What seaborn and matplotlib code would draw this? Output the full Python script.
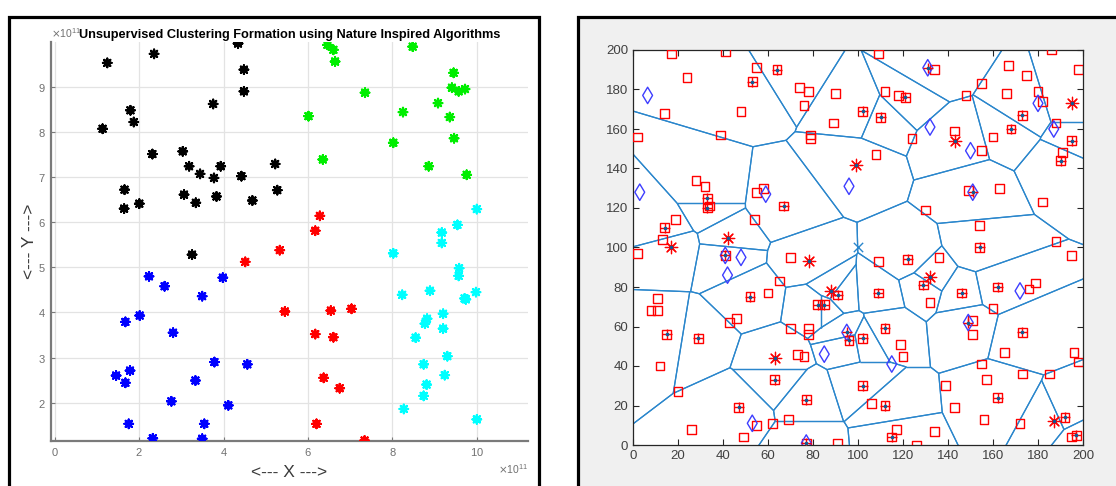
import numpy as np
import pandas as pd
import matplotlib
matplotlib.use("Agg")
import matplotlib.pyplot as plt
from matplotlib.patches import Rectangle
from matplotlib.collections import LineCollection
from matplotlib.ticker import ScalarFormatter
import seaborn as sns

plt.rcParams['font.family'] = ['Liberation Sans', 'DejaVu Sans']

# ---------------- Left panel data (units of 1e11) ----------------
black_x = [1.24, 2.35, 4.34, 4.48, 4.48, 3.75, 1.79, 1.87, 1.13, 2.31, 3.03, 3.18, 3.44, 3.77, 3.93, 4.42,
           3.06, 3.34, 3.83, 4.68, 1.65, 1.64, 2.00, 5.22, 5.27, 3.25]
black_y = [9.53, 9.73, 9.96, 9.38, 8.90, 8.62, 8.48, 8.22, 8.07, 7.51, 7.57, 7.24, 7.07, 6.98, 7.24, 7.02,
           6.61, 6.43, 6.57, 6.48, 6.72, 6.30, 6.41, 7.29, 6.71, 5.28]
green_x = [6.46, 6.60, 6.64, 8.48, 9.45, 9.41, 9.57, 9.72, 7.35, 9.08, 9.36, 8.25, 6.01, 9.46, 8.02, 6.35, 8.86, 9.76]
green_y = [9.93, 9.82, 9.56, 9.89, 9.31, 8.98, 8.90, 8.95, 8.87, 8.64, 8.33, 8.44, 8.35, 7.86, 7.76, 7.39, 7.24, 7.05]
cyan_x = [10.00, 9.54, 9.17, 9.17, 8.02, 9.58, 9.57, 8.23, 8.89, 9.98, 9.71, 9.74, 9.20, 8.82, 8.77, 9.20,
          8.55, 9.30, 8.74, 9.24, 8.81, 8.74, 8.27, 10.00]
cyan_y = [6.29, 5.94, 5.77, 5.54, 5.31, 4.98, 4.81, 4.39, 4.48, 4.45, 4.31, 4.29, 3.97, 3.86, 3.75, 3.64,
          3.44, 3.03, 2.85, 2.61, 2.40, 2.15, 1.86, 1.63]
red_x = [6.28, 6.17, 5.33, 4.51, 5.45, 6.54, 7.03, 6.17, 6.60, 6.37, 6.75, 6.20, 7.34]
red_y = [6.14, 5.81, 5.38, 5.12, 4.02, 4.04, 4.08, 3.52, 3.45, 2.55, 2.32, 1.53, 1.16]
blue_x = [2.23, 2.60, 3.98, 3.49, 2.01, 1.67, 2.80, 3.78, 4.56, 1.45, 1.78, 1.67, 3.33, 2.76, 4.11, 1.75,
          3.54, 2.32, 3.49]
blue_y = [4.80, 4.58, 4.77, 4.36, 3.93, 3.79, 3.55, 2.90, 2.85, 2.60, 2.71, 2.44, 2.49, 2.03, 1.94, 1.53,
          1.53, 1.21, 1.20]
SCALE = 1e11
left_title = "Unsupervised Clustering Formation using Nature Inspired Algorithms"
left_xticks = [0, 2, 4, 6, 8, 10]
left_yticks = [2, 3, 4, 5, 6, 7, 8, 9]

# ---------------- Right panel data ----------------
sq_x = [17, 41, 55, 24, 74, 78, 76, 90, 14, 48, 89, 2, 39, 79, 79, 28, 32, 55, 58, 34, 19, 54, 13,
        109, 186, 167, 198, 175, 155, 112, 118, 148, 166, 180, 182, 143, 160, 124, 155, 188, 108, 191,
        163, 182, 130, 154, 188, 134, 149,
        2, 70, 65, 11, 8, 11, 60, 46, 43, 70, 78, 78, 73, 76, 12, 20, 69, 62, 55, 26, 49, 91,
        109, 136, 195, 179, 176, 132, 160, 151, 151, 119, 120, 165, 196, 198, 155, 173, 185, 157, 139,
        106, 143, 156, 172, 117, 134, 126, 195]
sq_y = [198, 199, 191, 186, 181, 179, 172, 178, 168, 169, 163, 156, 157, 157, 155, 134, 131, 128, 130, 121, 114, 114, 104,
        198, 200, 192, 190, 187, 183, 179, 177, 177, 178, 179, 174, 159, 156, 155, 149, 163, 147, 148,
        130, 123, 119, 111, 103, 190, 129,
        97, 95, 83, 74, 68, 68, 77, 64, 62, 59, 59, 56, 46, 45, 40, 27, 13, 11, 10, 8, 4, 1,
        93, 95, 96, 82, 79, 72, 69, 63, 56, 51, 45, 47, 47, 42, 41, 36, 36, 33, 30,
        21, 19, 13, 11, 8, 7, 0, 4]
# cluster heads: square + plus + dot
ch_x = [64, 53, 33, 33, 67, 14, 121, 102, 110, 173, 168, 195, 190, 154, 52, 82, 85, 91, 15, 29, 63, 96, 102,
        47, 77, 122, 129, 146, 162, 109, 112, 173, 102, 112, 162, 115, 192, 197, 41, 77]
ch_y = [190, 184, 125, 120, 121, 110, 176, 169, 166, 167, 160, 154, 144, 100, 75, 71, 71, 76, 56, 54, 33, 53, 54,
        19, 23, 94, 81, 77, 80, 77, 59, 57, 30, 20, 24, 4, 14, 5, 96, 1]
# diamond heads: diamond + dot + plus
dh_x = [131, 151, 95, 149]
dh_y = [191, 128, 57, 62]
# plain diamonds
dm_x = [6.5, 3, 59, 96, 132, 150, 180, 187, 48, 42, 85, 53, 172, 115, 41, 77]
dm_y = [177, 128, 127, 131, 161, 149, 173, 160, 95, 86, 46, 11, 78, 41, 96, 1]
# asterisks (also Voronoi sites)
st_x = [42, 17, 99, 143, 195, 78, 88, 63, 132, 187]
st_y = [105, 100, 142, 154, 173, 93, 78, 44, 85, 12]
sink_x = [100]
sink_y = [100]
right_ticks = list(range(0, 201, 20))

W, H = 1116, 486
fig = plt.figure(figsize=(W / 100, H / 100), dpi=100)


def fx(px):
    return px / W


def fy(py):
    return (H - py) / H


# panel frames
fig.add_artist(Rectangle((fx(8.5), -0.05), fx(538.5) - fx(8.5), fy(16.5) + 0.05, transform=fig.transFigure,
                         facecolor='white', edgecolor='black', linewidth=2.3, zorder=-5))
fig.add_artist(Rectangle((fx(577.5), -0.05), 1.2 - fx(577.5), fy(16.5) + 0.05, transform=fig.transFigure,
                         facecolor='#f0f0f0', edgecolor='black', linewidth=2.3, zorder=-5))

# ---------------- Left axes ----------------
axL = fig.add_axes([fx(50.7), fy(441), fx(528.3) - fx(50.7), fy(41.7) - fy(441)])
frames = []
for name, xs, ys in [('black', black_x, black_y), ('green', green_x, green_y), ('cyan', cyan_x, cyan_y),
                     ('red', red_x, red_y), ('blue', blue_x, blue_y)]:
    frames.append(pd.DataFrame({'x': np.array(xs) * SCALE, 'y': np.array(ys) * SCALE, 'c': name}))
dfL = pd.concat(frames, ignore_index=True)
pal = {'black': '#000000', 'green': '#00ee00', 'cyan': '#00ffff', 'red': '#ff0000', 'blue': '#0000ff'}
sns.scatterplot(data=dfL, x='x', y='y', hue='c', palette=pal, marker=(8, 2, 0), s=38, linewidth=1.6,
                legend=False, ax=axL, zorder=3)
axL.set_xlim(-0.1 * SCALE, 11.22 * SCALE)
axL.set_ylim(1.15 * SCALE, 10.0 * SCALE)
axL.set_xticks(np.array(left_xticks) * SCALE)
axL.set_yticks(np.array(left_yticks) * SCALE)
for axis in (axL.xaxis, axL.yaxis):
    f = ScalarFormatter(useMathText=True, useOffset=False)
    f.set_powerlimits((11, 11))
    axis.set_major_formatter(f)
    axis.get_offset_text().set_fontsize(7.5)
    axis.get_offset_text().set_color('#808080')
axL.grid(True, color='#e3e3e3', linewidth=0.9)
axL.set_axisbelow(True)
for s in ('top', 'right'):
    axL.spines[s].set_visible(False)
for s in ('left', 'bottom'):
    axL.spines[s].set_color('#7a7a7a')
    axL.spines[s].set_linewidth(1.6)
axL.tick_params(direction='in', length=3, colors='#7a7a7a', labelsize=8, labelcolor='#707070')
axL.set_title(left_title, fontsize=9.2, fontweight='bold', y=1.0, pad=2.5, zorder=6)
axL.set_xlabel('<--- X --->', fontsize=12.5, color='#3a3a3a', labelpad=5)
axL.set_ylabel('<--- Y --->', fontsize=12.5, color='#3a3a3a', labelpad=1)

# ---------------- Right axes ----------------
axR = fig.add_axes([fx(633), fy(445), fx(1083) - fx(633), fy(50) - fy(445)])


def voronoi_edges(xs, ys, lo=-2000.0, hi=2200.0):
    pts = np.column_stack([xs, ys]).astype(float)
    segs = []
    for i, p in enumerate(pts):
        poly = [np.array([lo, lo]), np.array([hi, lo]), np.array([hi, hi]), np.array([lo, hi])]
        for j, q in enumerate(pts):
            if i == j:
                continue
            n = q - p
            c = (q @ q - p @ p) / 2.0
            out = []
            m = len(poly)
            for k in range(m):
                A, B = poly[k], poly[(k + 1) % m]
                fa, fb = A @ n - c, B @ n - c
                if fa <= 0:
                    out.append(A)
                if fa * fb < 0:
                    t = fa / (fa - fb)
                    out.append(A + t * (B - A))
            poly = out
            if not poly:
                break
        for k in range(len(poly)):
            A, B = poly[k], poly[(k + 1) % len(poly)]
            segs.append([tuple(A), tuple(B)])
    return segs


site_x = ch_x + dh_x + st_x
site_y = ch_y + dh_y + st_y
vcol = '#2a86cc'
axR.add_collection(LineCollection(voronoi_edges(site_x, site_y), colors=vcol, linewidths=0.9, zorder=2))

sns.scatterplot(x=sq_x + ch_x, y=sq_y + ch_y, marker='s', s=40, facecolor='none', edgecolor='#ff0000',
                linewidth=1.0, ax=axR, zorder=3)
sns.scatterplot(x=dm_x + dh_x, y=dm_y + dh_y, marker='d', s=70, facecolor='none', edgecolor='#3d3dff',
                linewidth=1.0, ax=axR, zorder=3)
sns.scatterplot(x=ch_x + dh_x, y=ch_y + dh_y, marker='+', s=60, color='#ff0000', linewidth=1.0, ax=axR, zorder=4)
sns.scatterplot(x=st_x, y=st_y, marker=(8, 2, 0), s=80, color='#ff0000', linewidth=0.9, ax=axR, zorder=4)
sns.scatterplot(x=site_x, y=site_y, marker='o', s=7, color='#0f5a96', linewidth=0, ax=axR, zorder=5)
sns.scatterplot(x=sink_x, y=sink_y, marker='x', s=45, color=vcol, linewidth=1.0, ax=axR, zorder=5)

axR.set_xlim(0, 200)
axR.set_ylim(0, 200)
axR.set_xticks(right_ticks)
axR.set_yticks(right_ticks)
axR.set_xlabel('')
axR.set_ylabel('')
for s in axR.spines.values():
    s.set_color('#262626')
    s.set_linewidth(0.9)
axR.tick_params(direction='in', top=True, right=True, length=4, width=0.8, colors='#262626',
                labelsize=9.5, labelcolor='#404040')
axR.set_facecolor('white')

fig.savefig('out.png', dpi=100)
